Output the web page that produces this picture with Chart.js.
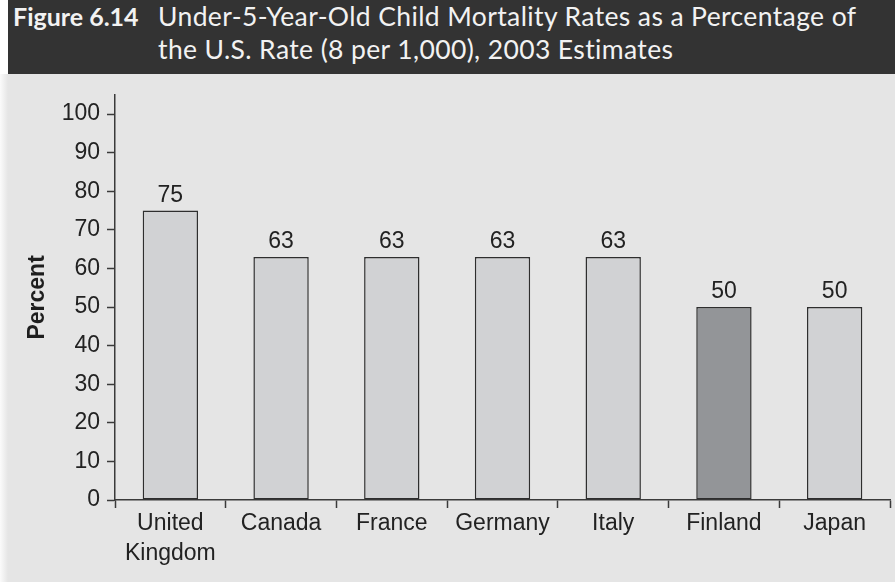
<!DOCTYPE html>
<html>
<head>
<meta charset="utf-8">
<script src="https://cdn.jsdelivr.net/npm/chart.js@4"></script>
<style>
  html, body { margin: 0; padding: 0; background: #fff; }
  body { width: 895px; height: 582px; position: relative; overflow: hidden; }
  #head {
    position: absolute; left: 8px; top: 0; width: 887px; height: 74px;
    background: #333333; color: #f2f2f2;
    font-family: Lato, "Open Sans", sans-serif; line-height: 33px;
  }
  #head .num { position: absolute; left: 5px; top: 0; font-size: 25px; font-weight: bold; }
  #head .txt {
    position: absolute; left: 150px; top: 0; width: 737px;
    font-size: 26.5px; letter-spacing: 0.38px; white-space: nowrap;
  }
  #edge {
    position: absolute; left: 0; top: 74px; width: 8px; height: 508px;
    background: linear-gradient(to right, #fbfbfb, #e5e5e5);
  }
  #panel {
    position: absolute; left: 8px; top: 74px; width: 887px; height: 508px;
    background: #e5e5e5;
  }
</style>
</head>
<body>
<div id="head">
  <span class="num">Figure 6.14</span>
  <span class="txt">Under-5-Year-Old Child Mortality Rates as a Percentage of<br>the U.S. Rate (8 per 1,000), 2003 Estimates</span>
</div>
<div id="edge"></div>
<div id="panel"><canvas id="mortalityChart" width="887" height="508"></canvas></div>
<script>
const countries = [["United", "Kingdom"], "Canada", "France", "Germany", "Italy", "Finland", "Japan"];
const percentOfUS = [75, 63, 63, 63, 63, 50, 50];
const barFills = ["#d1d2d4", "#d1d2d4", "#d1d2d4", "#d1d2d4", "#d1d2d4", "#939598", "#d1d2d4"];
const yTicks = [0, 10, 20, 30, 40, 50, 60, 70, 80, 90, 100];

const INK = "#222222";
const AXIS = "#3a3a3a";
const FONT = "'Liberation Sans', Arial, sans-serif";

// value printed above each bar
const barValueLabels = {
  id: "barValueLabels",
  afterDatasetsDraw(chart) {
    const { ctx } = chart;
    const meta = chart.getDatasetMeta(0);
    ctx.save();
    ctx.font = `23px ${FONT}`;
    ctx.fillStyle = INK;
    ctx.textAlign = "center";
    ctx.textBaseline = "alphabetic";
    meta.data.forEach((bar, i) => {
      ctx.fillText(String(percentOfUS[i]), bar.x, bar.y - 9);
    });
    ctx.restore();
  },
};

new Chart(document.getElementById("mortalityChart"), {
  type: "bar",
  data: {
    labels: countries,
    datasets: [
      {
        data: percentOfUS,
        backgroundColor: barFills,
        borderColor: "#2e2e2e",
        borderWidth: 1.5,
        borderSkipped: false,
        barPercentage: 0.5,
        categoryPercentage: 1,
      },
    ],
  },
  options: {
    responsive: false,
    animation: false,
    layout: { padding: { left: 0, top: 16, right: 5, bottom: 0 } },
    plugins: {
      legend: { display: false },
      tooltip: { enabled: false },
    },
    scales: {
      x: {
        afterFit: (scale) => { scale.height = 82; },
        border: { color: AXIS, width: 1.5 },
        grid: {
          offset: true,
          drawOnChartArea: false,
          drawTicks: true,
          tickLength: 8,
          tickColor: AXIS,
          tickWidth: 1.5,
        },
        ticks: {
          color: INK,
          padding: 1,
          maxRotation: 0,
          autoSkip: false,
          font: { family: FONT, size: 23, lineHeight: 1.3 },
        },
      },
      y: {
        min: 0,
        max: 105,
        afterFit: (scale) => { scale.width = 107; },
        afterBuildTicks: (scale) => {
          scale.ticks = yTicks.map((v) => ({ value: v }));
        },
        border: { color: AXIS, width: 1.5 },
        grid: {
          drawOnChartArea: false,
          drawTicks: true,
          tickLength: 8,
          tickColor: AXIS,
          tickWidth: 1.5,
        },
        ticks: {
          color: INK,
          padding: 7,
          font: { family: FONT, size: 23 },
        },
        title: {
          display: true,
          text: "Percent",
          color: "#1e1e1e",
          padding: { top: 16, bottom: 0 },
          font: { family: FONT, size: 23, weight: "bold" },
        },
      },
    },
  },
  plugins: [barValueLabels],
});
</script>
</body>
</html>
